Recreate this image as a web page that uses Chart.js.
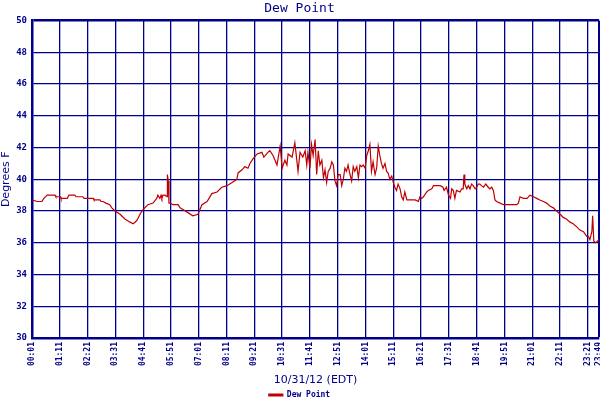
<!DOCTYPE html>
<html>
<head>
<meta charset="utf-8">
<script src="https://cdn.jsdelivr.net/npm/chart.js@4"></script>
<style>
  html, body { margin: 0; padding: 0; background: #fff; }
  #wrap { width: 600px; height: 400px; }
</style>
</head>
<body>
<div id="wrap"><canvas id="dew"></canvas></div>
<script>
// minutes since midnight, 10/31/12
const times = [
  1, 14, 26, 31, 39, 59, 61, 73, 74, 90, 94, 109, 112, 129, 132, 155, 157, 172, 175, 180,
  187, 197, 202, 210, 223, 235, 248, 256, 265, 273, 281, 293, 306, 315, 318, 323, 326, 328, 331, 336,
  341, 342, 344, 346, 349, 356, 369, 374, 381, 394, 406, 419, 429, 442, 454, 467, 479, 492, 505, 517,
  520, 530, 537, 545, 550, 558, 568, 580, 585, 595, 600, 608, 618, 626, 631, 638, 643, 646, 656, 663,
  671, 676, 683, 689, 693, 696, 701, 705, 709, 714, 718, 722, 726, 731, 735, 739, 743, 747, 752, 756,
  760, 764, 768, 772, 777, 781, 785, 789, 793, 797, 802, 806, 810, 814, 819, 823, 827, 831, 835, 840,
  844, 848, 852, 856, 860, 865, 869, 873, 877, 881, 885, 890, 894, 898, 902, 907, 911, 915, 919, 923,
  928, 932, 936, 940, 945, 957, 966, 974, 978, 982, 987, 995, 999, 1008, 1012, 1024, 1029, 1036, 1039, 1045,
  1050, 1055, 1058, 1062, 1066, 1070, 1079, 1083, 1087, 1089, 1091, 1096, 1100, 1104, 1108, 1112, 1117, 1121, 1125, 1129,
  1133, 1138, 1144, 1150, 1154, 1159, 1163, 1167, 1171, 1180, 1188, 1197, 1222, 1226, 1230, 1238, 1248, 1255, 1264, 1272,
  1280, 1289, 1297, 1306, 1314, 1322, 1331, 1339, 1347, 1356, 1364, 1373, 1381, 1390, 1398, 1402, 1406, 1411, 1413, 1416,
  1421, 1429
];
const dewPoint = [
  38.7, 38.6, 38.6, 38.8, 39.0, 39.0, 38.9, 38.9, 38.8, 38.8, 39.0, 39.0, 38.9, 38.9, 38.8, 38.8, 38.7, 38.7, 38.6, 38.6,
  38.5, 38.4, 38.2, 38.0, 37.8, 37.5, 37.3, 37.2, 37.4, 37.8, 38.1, 38.4, 38.5, 38.8, 39.0, 38.8, 39.0, 38.8, 39.0, 39.0,
  38.9, 40.3, 39.9, 38.5, 38.5, 38.4, 38.4, 38.2, 38.1, 37.9, 37.7, 37.8, 38.4, 38.6, 39.1, 39.2, 39.5, 39.6, 39.8, 40.0,
  40.4, 40.6, 40.8, 40.7, 41.0, 41.3, 41.6, 41.7, 41.4, 41.7, 41.8, 41.5, 40.9, 42.1, 40.7, 41.2, 40.9, 41.6, 41.4, 42.3,
  40.5, 41.7, 41.4, 41.8, 40.9, 41.7, 40.7, 42.2, 41.5, 42.5, 40.3, 41.8, 40.9, 41.2, 40.1, 40.6, 39.8, 40.5, 40.7, 41.1,
  40.9, 39.9, 39.6, 40.3, 40.3, 39.6, 40.0, 40.7, 40.5, 40.9, 40.3, 39.9, 40.8, 40.5, 40.8, 40.1, 40.9, 40.8, 40.9, 40.7,
  41.5, 41.8, 42.2, 40.5, 41.1, 40.3, 40.7, 42.1, 41.5, 41.0, 40.7, 41.0, 40.5, 40.4, 40.0, 40.2, 39.8, 39.5, 39.3, 39.7,
  39.4, 38.9, 38.7, 39.2, 38.7, 38.7, 38.7, 38.6, 38.9, 38.8, 38.9, 39.2, 39.3, 39.4, 39.6, 39.6, 39.6, 39.5, 39.3, 39.5,
  39.0, 38.8, 39.4, 39.3, 38.8, 39.3, 39.2, 39.4, 39.4, 40.3, 39.7, 39.4, 39.6, 39.4, 39.7, 39.6, 39.4, 39.5, 39.7, 39.7,
  39.6, 39.5, 39.7, 39.5, 39.4, 39.5, 39.3, 38.7, 38.6, 38.5, 38.4, 38.4, 38.4, 38.5, 38.9, 38.8, 38.8, 39.0, 38.9, 38.8,
  38.7, 38.6, 38.5, 38.3, 38.2, 38.0, 37.8, 37.6, 37.5, 37.3, 37.2, 37.0, 36.8, 36.7, 36.4, 36.4, 36.2, 36.7, 37.7, 36.1,
  36.0, 36.2
];
const xTickMinutes = [1, 71, 141, 211, 281, 351, 421, 491, 561, 631, 701, 771, 841, 911, 981, 1051, 1121, 1191, 1261, 1331, 1401, 1429];
const seriesName = 'Dew Point';
const dateLabel = '10/31/12 (EDT)';

const NAVY = '#00008b';
const RED = '#c00000';

function hhmm(m) {
  const h = Math.floor(m / 60), mm = m % 60;
  return String(h).padStart(2, '0') + ':' + String(mm).padStart(2, '0');
}

const points = times.map((t, i) => ({ x: t, y: dewPoint[i] }));

new Chart(document.getElementById('dew'), {
  type: 'line',
  data: {
    datasets: [{
      label: seriesName,
      data: points,
      borderColor: RED,
      backgroundColor: RED,
      borderWidth: 1.2,
      pointRadius: 0,
      tension: 0,
      fill: false
    }]
  },
  options: {
    responsive: true,
    maintainAspectRatio: false,
    animation: false,
    layout: { padding: { left: 0, right: 1, top: 0, bottom: 0 } },
    plugins: {
      title: {
        display: true,
        text: seriesName,
        color: NAVY,
        font: { family: 'DejaVu Sans Mono', size: 13, weight: 'normal' },
        padding: { top: 1, bottom: 4 }
      },
      legend: {
        position: 'bottom',
        maxHeight: 10,
        labels: {
          color: NAVY,
          boxWidth: 14,
          boxHeight: 2,
          padding: 1,
          font: { family: 'DejaVu Sans Mono', size: 8, weight: 'bold' }
        }
      },
      tooltip: { enabled: false }
    },
    scales: {
      x: {
        type: 'linear',
        min: 1,
        max: 1429,
        afterBuildTicks: s => { s.ticks = xTickMinutes.map(v => ({ value: v })); },
        afterFit: s => { s.height = 52; s.paddingRight = 0; s.paddingLeft = 0; },
        ticks: {
          autoSkip: false,
          minRotation: 90,
          maxRotation: 90,
          padding: 4,
          color: NAVY,
          font: { family: 'DejaVu Sans Mono', size: 8, weight: 'bold' },
          callback: v => hhmm(v)
        },
        grid: {
          color: NAVY,
          lineWidth: c => (c.index === xTickMinutes.length - 1 ? 2.5 : 1.3),
          drawTicks: false
        },
        border: { color: NAVY, width: 2.5 },
        title: {
          display: true,
          text: dateLabel,
          color: NAVY,
          font: { family: 'DejaVu Sans', size: 11 },
          padding: { top: 1, bottom: 3 }
        }
      },
      y: {
        min: 30,
        max: 50,
        afterFit: s => { s.width = 32; },
        ticks: {
          stepSize: 2,
          padding: 5,
          color: NAVY,
          font: { family: 'DejaVu Sans Mono', size: 9, weight: 'bold' }
        },
        grid: {
          color: NAVY,
          lineWidth: c => (c.tick && c.tick.value === 50 ? 2.5 : 1.3),
          drawTicks: false
        },
        border: { color: NAVY, width: 2.5 },
        title: {
          display: true,
          text: 'Degrees F',
          color: NAVY,
          font: { family: 'DejaVu Sans', size: 11 },
          padding: { top: 0, bottom: 2 }
        }
      }
    }
  }
});
</script>
</body>
</html>
